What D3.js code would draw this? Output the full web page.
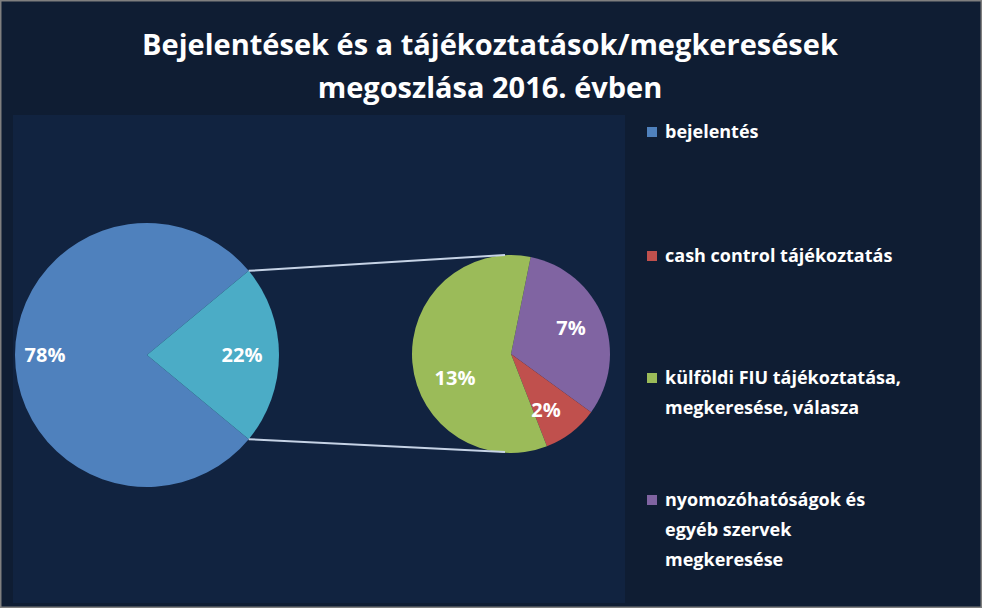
<!DOCTYPE html>
<html><head><meta charset="utf-8">
<script src="https://cdn.jsdelivr.net/npm/d3@7"></script>
<style>body{margin:0;background:#0f1d33}</style></head>
<body><svg id="c" width="982" height="608"></svg>
<script>
const mainCategories=["bejelentés","tájékoztatások/megkeresések"];
const mainValues=[78,22];
const mainLabels=["78%","22%"];
const subCategories=["nyomozóhatóságok és egyéb szervek megkeresése","cash control tájékoztatás","külföldi FIU tájékoztatása, megkeresése, válasza"];
const subValues=[7,2,13];
const subLabels=["7%","2%","13%"];
const legendLines=[["bejelentés"],["cash control tájékoztatás"],["külföldi FIU tájékoztatása,","megkeresése, válasza"],["nyomozóhatóságok és","egyéb szervek","megkeresése"]];
const legendColors=["#4f81bd","#c0504d","#9bbb59","#8064a2"];
const titleLines=["Bejelentések és a tájékoztatások/megkeresések","megoszlása 2016. évben"];

const svg=d3.select("#c");
svg.append("rect").attr("width",982).attr("height",608).attr("fill","#0f1d33");
svg.append("rect").attr("x",0).attr("y",0).attr("width",982).attr("height",608).attr("fill","none").attr("stroke","#7f7f7f").attr("stroke-width",3);
svg.append("rect").attr("x",13).attr("y",115).attr("width",612).attr("height",488).attr("fill","#112340");
const font="'Open Sans', 'DejaVu Sans', sans-serif";
svg.selectAll("text.t").data(titleLines).join("text").attr("x",490).attr("y",(d,i)=>55+i*43)
 .attr("text-anchor","middle").attr("fill","#fff").attr("font-family",font).attr("font-weight","bold").attr("font-size",29).text(d=>d);

// main pie
const mc=[147,355], mr=132;
const mainSpan=2*Math.PI*mainValues[1]/d3.sum(mainValues);
const mPie=d3.pie().sort(null).startAngle(Math.PI/2+mainSpan/2).endAngle(Math.PI/2+mainSpan/2+2*Math.PI);
const mArcs=mPie(mainValues);
const mArc=d3.arc().innerRadius(0).outerRadius(mr);
const mg=svg.append("g").attr("transform",`translate(${mc})`);
const mCol=["#4f81bd","#4bacc6"];
mg.selectAll("path").data(mArcs).join("path").attr("d",mArc).attr("fill",(d,i)=>mCol[i]);
const mLab=[[-102,0],[95,0]];
mg.selectAll("text").data(mainLabels).join("text").attr("x",(d,i)=>mLab[i][0]).attr("y",(d,i)=>mLab[i][1]+7)
 .attr("text-anchor","middle").attr("fill","#fff").attr("font-family",font).attr("font-weight","bold").attr("font-size",20).text(d=>d);

// second pie
const sc=[511,354], sr=99;
const sPie=d3.pie().sort(null).startAngle(0.2).endAngle(0.2+2*Math.PI);
const sArcs=sPie(subValues);
const sArc=d3.arc().innerRadius(0).outerRadius(sr);
const sg=svg.append("g").attr("transform",`translate(${sc})`);
const sCol=["#8064a2","#c0504d","#9bbb59"];
sg.selectAll("path").data(sArcs).join("path").attr("d",sArc).attr("fill",(d,i)=>sCol[i]);
const sLab=[[60,-26],[35,56],[-56,24]];
sg.selectAll("text").data(subLabels).join("text").attr("x",(d,i)=>sLab[i][0]).attr("y",(d,i)=>sLab[i][1]+7)
 .attr("text-anchor","middle").attr("fill","#fff").attr("font-family",font).attr("font-weight","bold").attr("font-size",20).text(d=>d);

// connectors
const a1=mArcs[1].startAngle, a2=mArcs[1].endAngle;
const p=(c,r,a)=>[c[0]+r*Math.sin(a),c[1]-r*Math.cos(a)];
[[p(mc,mr,a1),[505,255]],[p(mc,mr,a2),[505,452]]].forEach(l=>{
 svg.append("line").attr("x1",l[0][0]).attr("y1",l[0][1]).attr("x2",l[1][0]).attr("y2",l[1][1]).attr("stroke","#c6d3e6").attr("stroke-width",2);
});

// legend
const ly=[138,262,384,506];
legendLines.forEach((lines,i)=>{
 svg.append("rect").attr("x",647).attr("y",ly[i]-11).attr("width",10).attr("height",10).attr("fill",legendColors[i]);
 lines.forEach((t,j)=>svg.append("text").attr("x",665).attr("y",ly[i]+j*30).attr("fill","#fff").attr("font-family",font).attr("font-weight","bold").attr("font-size",18).text(t));
});
</script></body></html>
